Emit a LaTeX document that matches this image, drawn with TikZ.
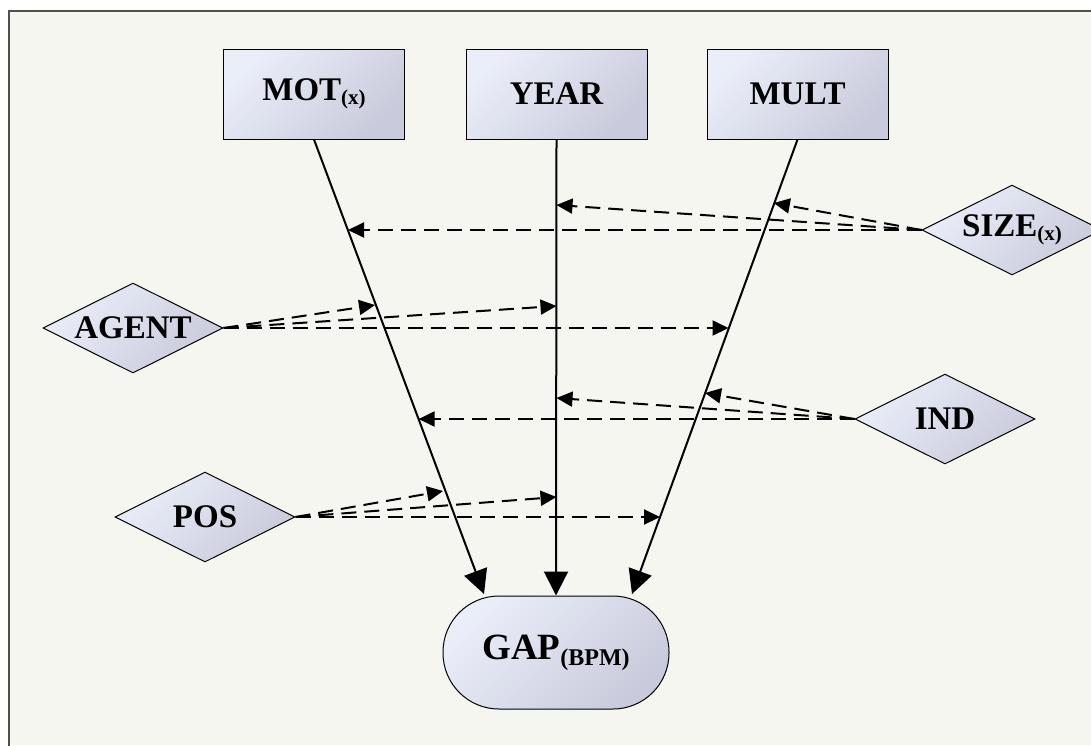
\documentclass[tikz,border=0pt]{standalone}
\usepackage{fontspec}
\setmainfont{Liberation Serif}
\usetikzlibrary{arrows.meta,shapes.geometric}

\definecolor{paper}{HTML}{F5F6F0}
\definecolor{framegray}{HTML}{505050}
\definecolor{fillA}{HTML}{EAEEF9}
\definecolor{fillB}{HTML}{C9CADB}

% lowered, smaller subscript text: #1 = drop, #2 = size, #3 = text
\newcommand\lowsub[3]{\raisebox{#1}{\fontsize{#2}{#2}\selectfont #3}}

\begin{document}
\begin{tikzpicture}[x=1pt,y=-1pt,
  shadedfill/.style={draw=black, line width=1pt, top color=fillA, bottom color=fillB, shading angle=45},
  varbox/.style={shadedfill, rectangle, minimum width=181pt, minimum height=90pt, inner sep=0pt,
    font=\fontsize{33}{36}\selectfont\bfseries},
  outcome/.style={shadedfill, rectangle, rounded corners=56pt, minimum width=226pt, minimum height=113pt,
    inner sep=0pt, font=\fontsize{37}{40}\selectfont\bfseries},
  factor/.style={shadedfill, diamond, aspect=2, minimum width=180pt, minimum height=90pt, inner sep=0pt,
    font=\fontsize{33}{36}\selectfont\bfseries},
  solidarr/.style={line width=2pt, -{Triangle[length=24pt,width=24pt]}},
  dasharr/.style={line width=2pt, dash pattern=on 15pt off 8pt, -{Triangle[length=16pt,width=15pt]}}
]
\useasboundingbox (0,0) rectangle (1091,745);

% page and frame
\fill[white] (0,0) rectangle (1091,745);
\fill[paper] (9,11) rectangle (1091,745);
\draw[framegray, line width=2pt] (9,746) -- (9,11) -- (1092,11);

% variables
\node[varbox] (mot)  at (314,94)   {MOT\lowsub{-4pt}{21}{(x)}};
\node[varbox] (year) at (556.5,94) {YEAR};
\node[varbox] (mult) at (797.5,94) {MULT};
\node[outcome] (gap) at (556,652.5) {GAP\lowsub{-6pt}{24}{(BPM)}};

% moderating factors
\node[factor] (size)  at (1012,230) {SIZE\lowsub{-4pt}{21}{(x)}};
\node[factor] (agent) at (133,328)  {AGENT};
\node[factor] (ind)   at (945,419)  {IND};
\node[factor] (pos)   at (205,517)  {POS};

% arrow ends on the outcome
\coordinate (gm) at (484,594);
\coordinate (gr) at (632,594);

% direct effects
\draw[solidarr] (mot.south)  -- (gm);
\draw[solidarr] (year.south) -- (gap.north);
\draw[solidarr] (mult.south) -- (gr);

% points on the direct-effect lines
\coordinate (sM) at (348.0,230);
\coordinate (sY) at (556.5,205);
\coordinate (sU) at (773.8,203);
\coordinate (aM) at (375,305);
\coordinate (aY) at (556.5,306);
\coordinate (aU) at (728.5,328);
\coordinate (iM) at (418.6,419);
\coordinate (iY) at (556.5,398);
\coordinate (iU) at (705,393);
\coordinate (pM) at (443,491);
\coordinate (pY) at (556.5,497);
\coordinate (pU) at (660,517);

% moderating effects
\draw[dasharr] (size.west) -- (sM);
\draw[dasharr] (size.west) -- (sY);
\draw[dasharr] (size.west) -- (sU);
\draw[dasharr] (agent.east) -- (aM);
\draw[dasharr] (agent.east) -- (aY);
\draw[dasharr] (agent.east) -- (aU);
\draw[dasharr] (ind.west) -- (iM);
\draw[dasharr] (ind.west) -- (iY);
\draw[dasharr] (ind.west) -- (iU);
\draw[dasharr] (pos.east) -- (pM);
\draw[dasharr] (pos.east) -- (pY);
\draw[dasharr] (pos.east) -- (pU);
\end{tikzpicture}
\end{document}
